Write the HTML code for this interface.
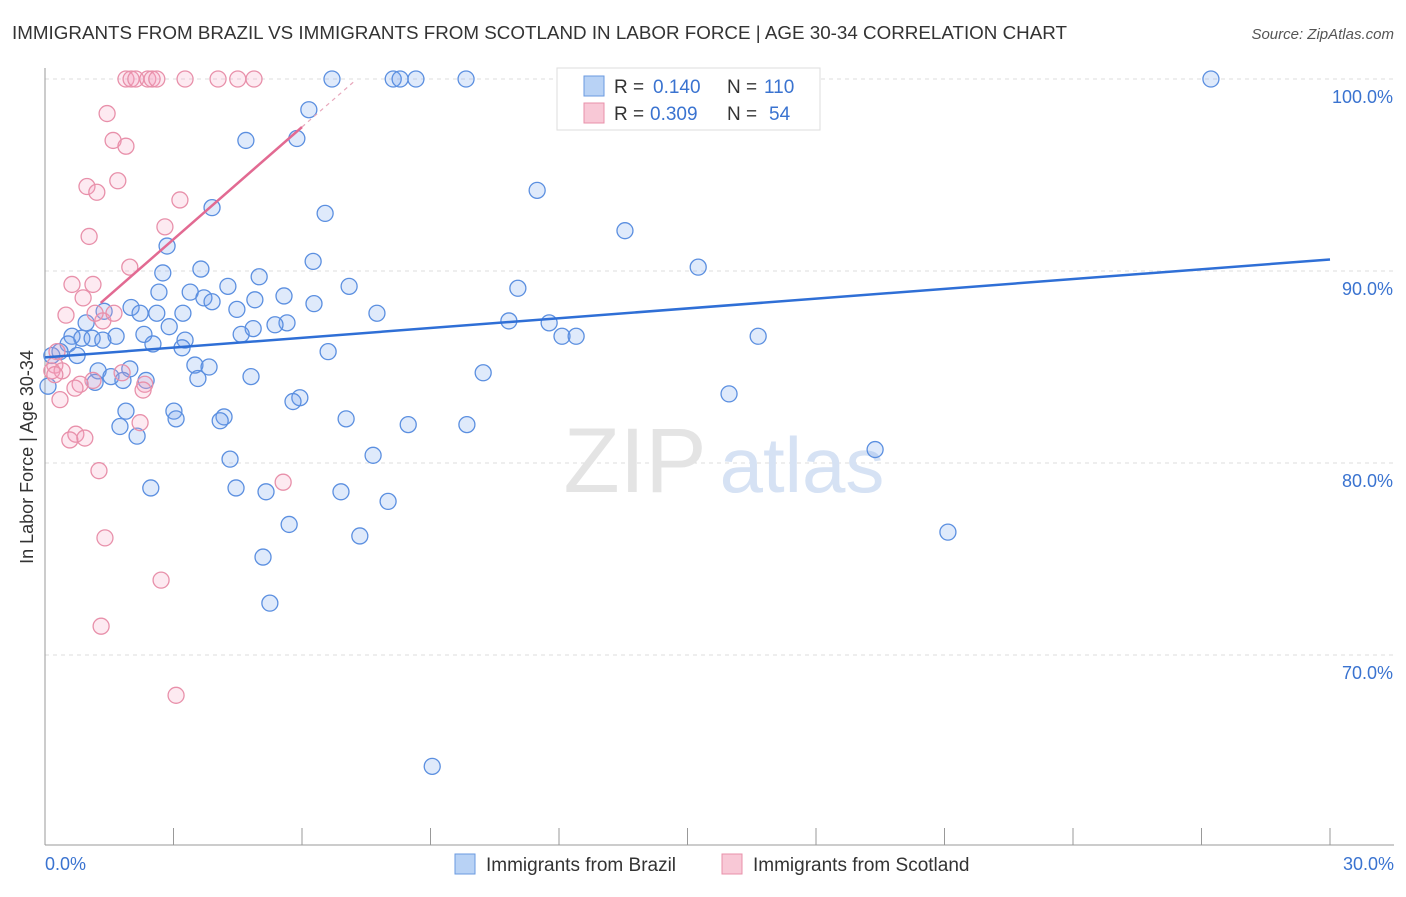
<!DOCTYPE html>
<html><head><meta charset="utf-8"><style>
body{margin:0;background:#fff;font-family:"Liberation Sans",sans-serif;}
svg text{font-family:"Liberation Sans",sans-serif;}
</style></head><body>
<svg id="c" width="1406" height="892" xmlns="http://www.w3.org/2000/svg">
<text x="12" y="39" font-size="18" fill="#333" textLength="1055" lengthAdjust="spacingAndGlyphs">IMMIGRANTS FROM BRAZIL VS IMMIGRANTS FROM SCOTLAND IN LABOR FORCE | AGE 30-34 CORRELATION CHART</text>
<text x="1394" y="39" font-size="15" fill="#555" font-style="italic" text-anchor="end">Source: ZipAtlas.com</text>
<text x="33" y="457" font-size="18" fill="#333" text-anchor="middle" transform="rotate(-90 33 457)">In Labor Force | Age 30-34</text>
<g id="grid"></g>
<text x="635" y="492" font-size="92" fill="#e4e4e4" font-family="Liberation Serif" text-anchor="middle">ZIP</text>
<text x="802" y="492" font-size="78" fill="#d6e2f4" text-anchor="middle">atlas</text>
<g id="pts"></g>
<g id="lines"></g>
<g>
<rect x="557" y="68" width="263" height="62" fill="#fff" stroke="#ddd"/>
<rect x="584" y="76" width="20" height="20" fill="#b8d2f5" stroke="#6a9ae0"/>
<text x="614" y="93" font-size="19" fill="#333">R =</text>
<text x="653" y="93" font-size="19" fill="#3a73d0">0.140</text>
<text x="727" y="93" font-size="19" fill="#333">N =</text>
<text x="764" y="93" font-size="19" fill="#3a73d0">110</text>
<rect x="584" y="103" width="20" height="20" fill="#f8c8d6" stroke="#e890aa"/>
<text x="614" y="120" font-size="19" fill="#333">R =</text>
<text x="650" y="120" font-size="19" fill="#3a73d0">0.309</text>
<text x="727" y="120" font-size="19" fill="#333">N =</text>
<text x="769" y="120" font-size="19" fill="#3a73d0">54</text>
</g>
<g>
<rect x="455" y="854" width="20" height="20" fill="#b8d2f5" stroke="#6a9ae0"/>
<text x="486" y="871" font-size="19" fill="#333">Immigrants from Brazil</text>
<rect x="722" y="854" width="20" height="20" fill="#f8c8d6" stroke="#e890aa"/>
<text x="753" y="871" font-size="19" fill="#333">Immigrants from Scotland</text>
</g>
</svg>
<script>
const yTicks=[70,80,90,100];
const yTickLabels=["70.0%","80.0%","90.0%","100.0%"];
const xTickLabels=["0.0%","30.0%"];
const brazilX=[6.70,8.13,8.29,8.66,9.83,27.22,6.16,4.69,5.88,11.49,3.90,6.54,13.54,2.85,6.26,15.25,3.64,2.75,5.00,7.10,11.04,4.27,2.66,3.39,5.58,3.71,3.90,4.90,6.28,2.01,4.48,2.22,2.61,3.22,7.75,1.38,0.96,5.65,5.37,10.83,11.77,2.90,4.86,4.58,2.31,12.07,12.40,16.65,0.63,0.86,1.10,1.66,1.35,3.27,2.52,0.54,3.20,6.61,0.75,0.35,0.16,3.50,3.83,1.24,1.98,10.23,1.54,4.81,3.57,1.82,2.36,1.17,15.97,5.95,5.79,1.89,3.01,4.18,4.09,3.06,7.03,1.75,8.48,9.85,2.15,19.38,7.66,4.32,2.47,4.46,5.16,6.91,8.01,5.70,7.35,21.08,5.09,5.25,9.04,0.07];
const brazilY=[100,100,100,100,100,100,98.4,96.8,96.9,94.2,93.3,93.0,92.1,91.3,90.5,90.2,90.1,89.9,89.7,89.2,89.1,89.2,88.9,88.9,88.7,88.6,88.4,88.5,88.3,88.1,88.0,87.8,87.8,87.8,87.8,87.9,87.3,87.3,87.2,87.4,87.3,87.1,87.0,86.7,86.7,86.6,86.6,86.6,86.6,86.5,86.5,86.6,86.4,86.4,86.2,86.2,86.0,85.8,85.6,85.8,85.6,85.1,85.0,84.8,84.9,84.7,84.5,84.5,84.4,84.3,84.3,84.2,83.6,83.4,83.2,82.7,82.7,82.4,82.2,82.3,82.3,81.9,82.0,82.0,81.4,80.7,80.4,80.2,78.7,78.7,78.5,78.5,78.0,76.8,76.2,76.4,75.1,72.7,64.2,84.0];
const scotX=[1.89,2.01,2.12,2.40,2.50,2.61,3.27,4.04,4.50,4.88,1.45,1.59,1.89,1.70,0.98,1.21,3.15,2.80,1.03,1.98,0.63,1.12,0.89,0.49,1.35,1.61,1.17,0.28,0.23,0.16,0.40,0.23,1.12,0.82,0.70,1.80,2.33,2.29,0.35,2.22,0.72,0.93,0.58,1.26,5.56,1.40,2.71,1.31,3.06];
const scotY=[100,100,100,100,100,100,100,100,100,100,98.2,96.8,96.5,94.7,94.4,94.1,93.7,92.3,91.8,90.2,89.3,89.3,88.6,87.7,87.4,87.8,87.8,85.8,85.1,84.8,84.8,84.6,84.3,84.1,83.9,84.7,84.1,83.8,83.3,82.1,81.5,81.3,81.2,79.6,79.0,76.1,73.9,71.5,67.9];
const brazilTrend=[85.5,90.6];
const scotTrend=[85.8,1.95];
const NS="http://www.w3.org/2000/svg";
const X=v=>45+v/30*1285;
const Y=v=>79+(100-v)*19.2;
function mk(t,a,p){const e=document.createElementNS(NS,t);for(const k in a)e.setAttribute(k,a[k]);p.appendChild(e);return e;}
const grid=document.getElementById('grid');
yTicks.forEach((t,i)=>{
 const l=mk('line',{x1:45,x2:1394,y1:Y(t),y2:Y(t),stroke:'#ddd','stroke-dasharray':'4 4'},grid);
 
 
 const tx=mk('text',{x:1393,y:Y(t)+24,'font-size':18,fill:'#3a73d0','text-anchor':'end'},grid);
 tx.textContent=yTickLabels[i];
 
 
});
const ax=mk('line',{x1:45,x2:45,y1:68,y2:845,stroke:'#999'},grid);


const bx=mk('line',{x1:45,x2:1394,y1:845,y2:845,stroke:'#999'},grid);


for(let i=1;i<=10;i++){const t=mk('line',{x1:X(i*3),x2:X(i*3),y1:828,y2:845,stroke:'#999'},grid);
 
 }
[[0,'start',45],[30,'end',1394]].forEach((d,i)=>{const t=mk('text',{x:d[2],y:870,'font-size':18,fill:'#3a73d0','text-anchor':d[1]},grid);t.textContent=xTickLabels[i];
 
 });
const pts=document.getElementById('pts');
brazilX.forEach((x,i)=>{const c=mk('circle',{cx:X(x),cy:Y(brazilY[i]),r:8,fill:'rgba(110,160,235,0.22)',stroke:'#5b8fe0','stroke-width':1.3},pts);
 
 });
scotX.forEach((x,i)=>{const c=mk('circle',{cx:X(x),cy:Y(scotY[i]),r:8,fill:'rgba(245,160,190,0.22)',stroke:'#e890aa','stroke-width':1.3},pts);
 
 });
const lines=document.getElementById('lines');
const bl=mk('line',{x1:X(0),y1:Y(brazilTrend[0]),x2:X(30),y2:Y(brazilTrend[1]),stroke:'#2f6fd6','stroke-width':2.5},lines);


const sy=x=>scotTrend[0]+scotTrend[1]*x;
const sl=mk('line',{x1:X(1.3),y1:Y(sy(1.3)),x2:X(6.0),y2:Y(sy(6.0)),stroke:'#e26a92','stroke-width':2.5},lines);


const sd=mk('line',{x1:X(6.0),y1:Y(sy(6.0)),x2:X(7.2),y2:Y(sy(7.2)),stroke:'#e8a8bc','stroke-width':1.2,'stroke-dasharray':'4 4'},lines);


</script>
</body></html>
